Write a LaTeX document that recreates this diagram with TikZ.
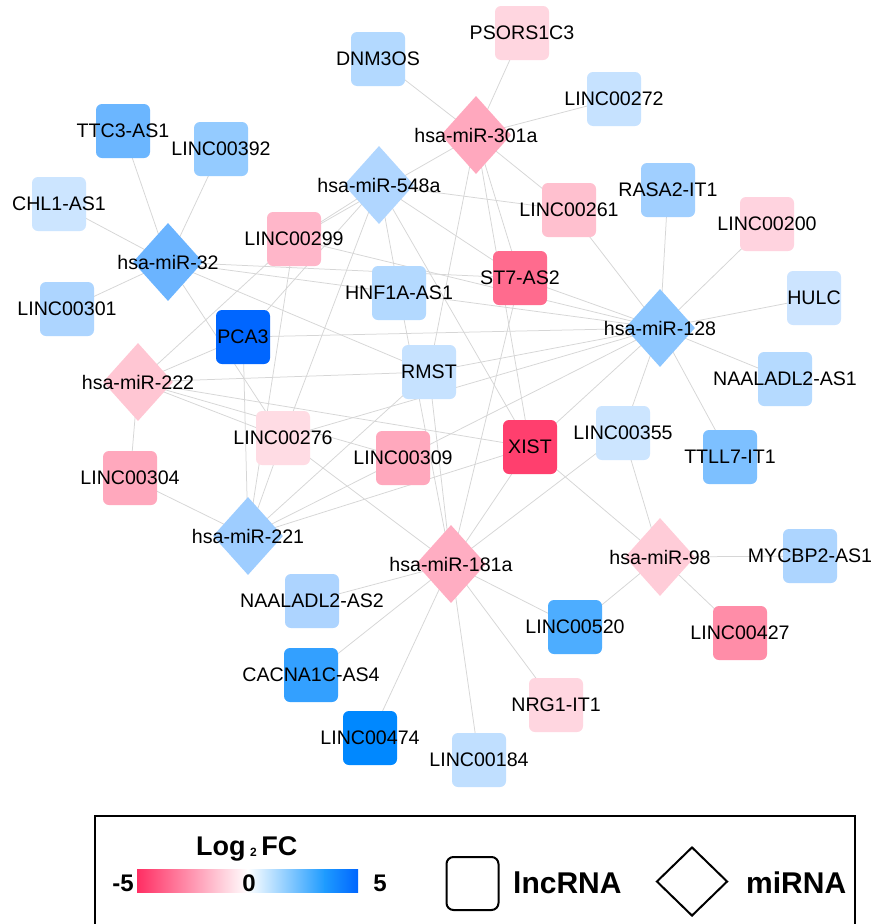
\documentclass[tikz,border=0pt]{standalone}
\usepackage{fontspec}
\setmainfont{Liberation Sans}
\usetikzlibrary{shapes.geometric,backgrounds}
\newcommand\lblfont{\fontsize{19.6}{19.6}\selectfont}
\definecolor{edgegrey}{HTML}{D6D6D6}
\tikzset{
  lncbox/.style={rectangle, rounded corners=6pt, minimum width=54pt, minimum height=54pt, inner sep=0pt, draw=none},
  mirbox/.style={diamond, minimum width=70pt, minimum height=78pt, inner sep=0pt, draw=none},
  lbl/.style={font=\lblfont, inner sep=0pt, text=black},
  edge/.style={draw=edgegrey, line width=0.75pt},
  legtext/.style={font=\bfseries\fontsize{30}{30}\selectfont, inner sep=0pt},
  legnum/.style={font=\bfseries\fontsize{24}{24}\selectfont, inner sep=0pt}
}
\newcommand\lnc[5]{\definecolor{col#1}{HTML}{#5}\node[lncbox,fill=col#1] (#1) at (#2,#3) {};\node[lbl] (#1t) at (#1) {#4};}
\newcommand\mir[5]{\definecolor{col#1}{HTML}{#5}\node[mirbox,fill=col#1] (#1) at (#2,#3) {};\node[lbl] (#1t) at (#1) {#4};}
\begin{document}
\begin{tikzpicture}[x=1pt,y=-1pt]
\useasboundingbox (0,0) rectangle (873,924);
% miRNAs
\mir{m301}{476}{135}{hsa-miR-301a}{FFA8BE}
\mir{m548}{379}{185}{hsa-miR-548a}{B0D6FF}
\mir{m32}{168}{262}{hsa-miR-32}{6BB4FF}
\mir{m128}{660}{328}{hsa-miR-128}{8CC6FF}
\mir{m222}{138}{382}{hsa-miR-222}{FFC6D3}
\mir{m221}{248}{536}{hsa-miR-221}{9ECDFF}
\mir{m181}{451}{564}{hsa-miR-181a}{FFADC2}
\mir{m98}{660}{557}{hsa-miR-98}{FFCCD8}
% lncRNAs
\lnc{dnm}{378}{59}{DNM3OS}{B3D9FF}
\lnc{pso}{522}{33}{PSORS1C3}{FFD6E0}
\lnc{lA}{614}{99}{LINC00272}{C6E2FF}
\lnc{ttc}{123}{131}{TTC3-AS1}{6BB6FF}
\lnc{lB}{221}{149}{LINC00392}{94CBFF}
\lnc{chl}{59}{204}{CHL1-AS1}{CCE5FF}
\lnc{lC}{294}{239}{LINC00299}{FFB6C9}
\lnc{lD}{569}{210}{LINC00261}{FFC0CF}
\lnc{rasa}{668}{190}{RASA2-IT1}{A0CFFF}
\lnc{lE}{767}{224}{LINC00200}{FFD3DF}
\lnc{hulc}{814}{298}{HULC}{CCE4FF}
\lnc{st}{520}{278}{ST7-AS2}{FF6B8E}
\lnc{hnf}{399}{293}{HNF1A-AS1}{B3D9FF}
\lnc{rmst}{429}{372}{RMST}{C6E2FF}
\lnc{pca}{243}{337}{PCA3}{0066FF}
\lnc{lF}{67}{309}{LINC00301}{ADD5FF}
\lnc{lG}{283}{438}{LINC00276}{FFDCE4}
\lnc{lH}{403}{458}{LINC00309}{FFA8BD}
\lnc{xist}{530}{447}{XIST}{FF3F6E}
\lnc{lI}{623}{433}{LINC00355}{CCE5FF}
\lnc{naaA}{785}{379}{NAALADL2-AS1}{B5DAFF}
\lnc{ttll}{730}{457}{TTLL7-IT1}{7DC0FF}
\lnc{myc}{810}{556}{MYCBP2-AS1}{ADD5FF}
\lnc{lJ}{130}{478}{LINC00304}{FFA8BD}
\lnc{naaB}{312}{601}{NAALADL2-AS2}{ADD4FF}
\lnc{cac}{311}{675}{CACNA1C-AS4}{33A0FF}
\lnc{lK}{370}{738}{LINC00474}{0088FF}
\lnc{lL}{479}{760}{LINC00184}{C0DFFF}
\lnc{lM}{575}{627}{LINC00520}{4DADFF}
\lnc{nrg}{556}{705}{NRG1-IT1}{FFD6E0}
\lnc{lN}{740}{633}{LINC00427}{FF8DA8}
% edges
\begin{scope}[on background layer]
\fill[white] (0,0) rectangle (873,924);
\foreach \a/\b in {m301/dnm, m301/pso, m301/lA, m301/lD, m301/st, m301/rmst, m301/lC, m301/xist,
  m548/lC, m548/lD, m548/hnf, m548/st, m548/xist, m548/lG, m548/pca,
  m32/ttc, m32/lB, m32/chl, m32/lF, m32/hnf, m32/st, m32/rmst, m32/lG,
  m128/rasa, m128/lE, m128/hulc, m128/naaA, m128/ttll, m128/lD, m128/lI, m128/st, m128/hnf, m128/pca, m128/rmst, m128/lG, m128/lH, m128/xist, m128/lC,
  m222/lJ, m222/pca, m222/rmst, m222/lG, m222/lH, m222/xist, m222/lC,
  m221/lJ, m221/pca, m221/lC, m221/lG, m221/rmst, m221/lH, m221/xist,
  m181/naaB, m181/cac, m181/lK, m181/lL, m181/nrg, m181/lM, m181/rmst, m181/xist, m181/lG, m181/st, m181/lI, m181/hnf,
  m98/myc, m98/lN, m98/lM, m98/lI, m98/xist}
  \draw[edge] (\a.center) -- (\b.center);
\end{scope}
% legend
\draw[line width=2.2pt] (95,930) -- (95,816) -- (855,816) -- (855,930);
\node[font=\bfseries\fontsize{27}{27}\selectfont, inner sep=0pt, anchor=base west] (logfc) at (196,855) {Log\,\raisebox{-1pt}{\fontsize{12}{12}\selectfont 2}\,FC};
\definecolor{gpink}{HTML}{FF2E63}
\definecolor{gblue}{HTML}{0066FF}
\definecolor{gmid}{HTML}{1E9BFF}
\shade[left color=gpink, right color=white] (137,869) rectangle (248,892);
\shade[left color=white, right color=gmid] (247.5,869) rectangle (325,892);
\shade[left color=gmid, right color=gblue] (324.5,869) rectangle (358,892);
\node[legnum, anchor=base east] (lmin) at (134,891) {-5};
\node[legnum, anchor=base] (lzero) at (249,891) {0};
\node[legnum, anchor=base] (lmax) at (380,891) {5};
\node[rectangle, rounded corners=7pt, draw, line width=2pt, minimum width=52pt, minimum height=53pt, inner sep=0pt] (leglnc) at (472.5,883.5) {};
\node[legtext, anchor=base west] (leglnct) at (513,893) {lncRNA};
\node[diamond, draw, line width=2pt, minimum width=71pt, minimum height=69pt, inner sep=0pt] (legmir) at (692,881.5) {};
\node[legtext, anchor=base west] (legmirt) at (746,893) {miRNA};
\end{tikzpicture}
\end{document}
